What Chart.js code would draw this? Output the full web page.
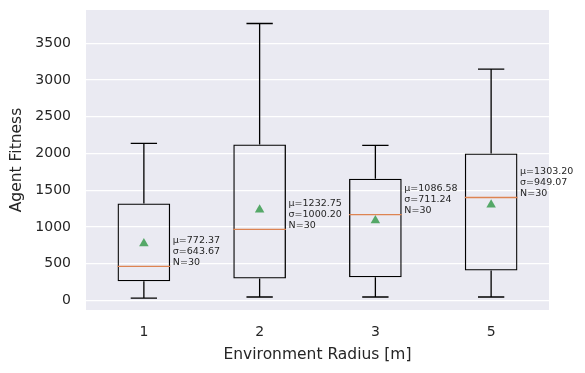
<!DOCTYPE html>
<html>
<head>
<meta charset="utf-8">
<script src="https://cdn.jsdelivr.net/npm/chart.js@4"></script>
<style>
  html, body { margin: 0; padding: 0; background: #fff; }
  #wrap { width: 585px; height: 373px; }
</style>
</head>
<body>
<div id="wrap"><canvas id="boxChart" width="585" height="373"></canvas></div>
<script>
  // radius categories
  const radii = ['1', '2', '3', '5'];
  // five-number summaries
  const whiskerLow = [30, 45, 45, 45];
  const q1 = [260, 298, 313, 405];
  const medians = [462, 965, 1167, 1400];
  const q3 = [1320, 2122, 1655, 2000];
  const whiskerHigh = [2138, 3770, 2110, 3148];
  // annotated stats
  const means = [772.37, 1232.75, 1086.58, 1303.20];
  const stds = [643.67, 1000.20, 711.24, 949.07];
  const counts = [30, 30, 30, 30];
  const yTicks = [0, 500, 1000, 1500, 2000, 2500, 3000, 3500];

  const textColor = '#262626';
  const fontFamily = '"DejaVu Sans", sans-serif';

  const boxBg = {
    id: 'boxBg',
    beforeDraw(chart) {
      const a = chart.chartArea, ctx = chart.ctx;
      ctx.save();
      ctx.fillStyle = '#EAEAF2';
      ctx.fillRect(a.left, a.top, a.right - a.left, a.bottom - a.top);
      ctx.restore();
    }
  };

  const boxExtras = {
    id: 'boxExtras',
    afterDatasetsDraw(chart) {
      const ctx = chart.ctx;
      const x = chart.scales.x, y = chart.scales.y;
      const meta = chart.getDatasetMeta(0);
      ctx.save();
      radii.forEach((r, i) => {
        const bar = meta.data[i];
        const cx = x.getPixelForValue(i);
        const half = bar.width / 2;
        const cap = half / 2;
        // whiskers and caps
        ctx.strokeStyle = '#000';
        ctx.lineWidth = 1.3;
        ctx.beginPath();
        ctx.moveTo(cx, y.getPixelForValue(q1[i]));
        ctx.lineTo(cx, y.getPixelForValue(whiskerLow[i]));
        ctx.moveTo(cx, y.getPixelForValue(q3[i]));
        ctx.lineTo(cx, y.getPixelForValue(whiskerHigh[i]));
        ctx.moveTo(cx - cap, y.getPixelForValue(whiskerLow[i]));
        ctx.lineTo(cx + cap, y.getPixelForValue(whiskerLow[i]));
        ctx.moveTo(cx - cap, y.getPixelForValue(whiskerHigh[i]));
        ctx.lineTo(cx + cap, y.getPixelForValue(whiskerHigh[i]));
        ctx.stroke();
        // median
        const my = y.getPixelForValue(medians[i]);
        ctx.strokeStyle = '#DD8452';
        ctx.lineWidth = 1.3;
        ctx.beginPath();
        ctx.moveTo(cx - half, my);
        ctx.lineTo(cx + half, my);
        ctx.stroke();
        // stats text, bottom at the median
        const unit = x.getPixelForValue(1) - x.getPixelForValue(0);
        const tx = cx + unit * 0.25;
        ctx.fillStyle = textColor;
        ctx.font = '9.5px ' + fontFamily;
        ctx.textAlign = 'left';
        ctx.textBaseline = 'middle';
        ctx.fillText('μ=' + means[i].toFixed(2), tx, my - 26);
        ctx.fillText('σ=' + stds[i].toFixed(2), tx, my - 15);
        ctx.fillText('N=' + counts[i], tx, my - 4);
      });
      ctx.restore();
    }
  };

  const ctx = document.getElementById('boxChart').getContext('2d');
  new Chart(ctx, {
    data: {
      labels: radii,
      datasets: [{
        type: 'bar',
        data: q1.map((v, i) => [v, q3[i]]),
        backgroundColor: 'rgba(0,0,0,0)',
        borderColor: '#000',
        borderWidth: 1.3,
        borderSkipped: false,
        barPercentage: 0.455,
        categoryPercentage: 1,
        order: 2
      }, {
        type: 'line',
        data: means,
        showLine: false,
        pointStyle: 'triangle',
        pointRadius: 5.5,
        pointBackgroundColor: '#55A868',
        pointBorderColor: '#55A868',
        pointBorderWidth: 0,
        order: 1
      }]
    },
    options: {
      responsive: false,
      animation: false,
      events: [],
      layout: { padding: { left: 0, top: 10, right: 36, bottom: 0 } },
      plugins: { legend: { display: false }, tooltip: { enabled: false } },
      scales: {
        x: {
          offset: true,
          grid: { display: false, drawTicks: false },
          border: { display: false },
          ticks: { color: textColor, font: { family: fontFamily, size: 14 }, padding: 14 },
          title: { display: true, text: 'Environment Radius [m]', color: textColor,
                   font: { family: fontFamily, size: 15.5 }, padding: { top: 0, bottom: 9 } },
          afterFit(s) { s.height = 63; s.paddingLeft = 0; s.paddingRight = 0; }
        },
        y: {
          min: -132,
          max: 3954,
          afterBuildTicks(s) { s.ticks = yTicks.map(v => ({ value: v })); },
          grid: { color: '#fff', lineWidth: 1.3, drawTicks: false },
          border: { display: false },
          ticks: { color: textColor, font: { family: fontFamily, size: 14 }, padding: 15,
                   callback: v => String(v) },
          title: { display: true, text: 'Agent Fitness', color: textColor,
                   font: { family: fontFamily, size: 15.5 }, padding: { top: 8, bottom: 0 } },
          afterFit(s) { s.width = 86; s.paddingTop = 0; s.paddingBottom = 0; }
        }
      }
    },
    plugins: [boxBg, boxExtras]
  });
</script>
</body>
</html>
